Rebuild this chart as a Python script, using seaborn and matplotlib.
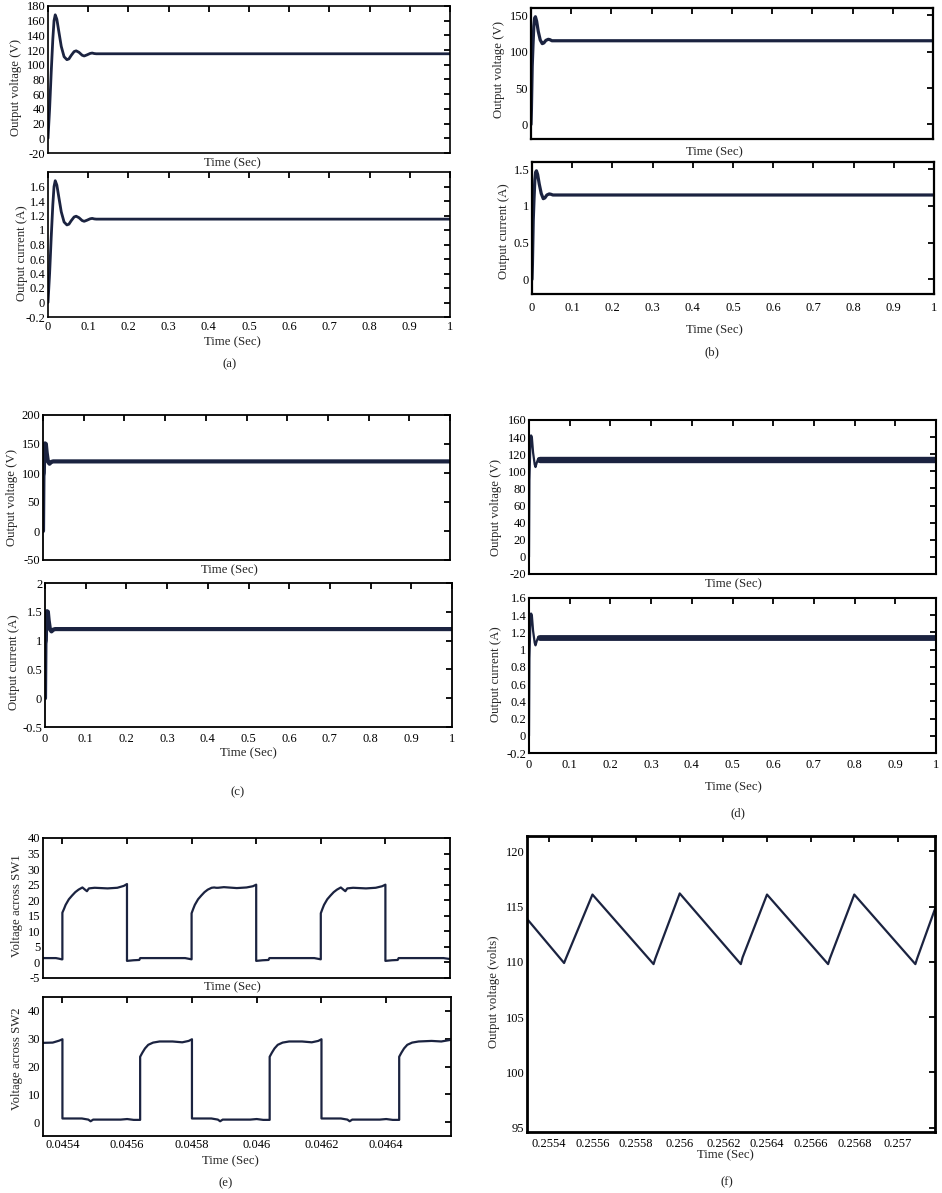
import matplotlib
matplotlib.use("Agg")
import matplotlib.pyplot as plt
import seaborn as sns

# ---------------- data ----------------
# (a)
a_t = [0, 0.004, 0.008, 0.012, 0.015, 0.018, 0.022, 0.027, 0.033, 0.04, 0.047, 0.052,
       0.058, 0.065, 0.07, 0.077, 0.085, 0.09, 0.097, 0.105, 0.11, 0.115, 0.12, 1.0]
a_v = [0, 40, 90, 135, 160, 168, 162, 145, 125, 111, 107, 108,
       113, 118, 119, 117, 113, 112, 113.5, 115.5, 116, 115.3, 115, 115]
a_i = [0, 0.40, 0.90, 1.35, 1.60, 1.68, 1.62, 1.45, 1.25, 1.11, 1.07, 1.08,
       1.13, 1.18, 1.19, 1.17, 1.13, 1.12, 1.135, 1.155, 1.16, 1.153, 1.15, 1.15]
# (b)
b_t = [0, 0.001, 0.003, 0.005, 0.007, 0.009, 0.011, 0.014, 0.018, 0.023, 0.028, 0.032,
       0.037, 0.043, 0.047, 0.052, 1.0]
b_v = [0, 20, 80, 110, 135, 146, 148, 142, 128, 116, 111, 112, 115.5, 117, 116.5, 115, 115]
b_i = [0, 0.2, 0.8, 1.1, 1.35, 1.46, 1.48, 1.43, 1.3, 1.17, 1.1, 1.11, 1.15, 1.165, 1.16, 1.15, 1.15]
# (c)
c_t = [0, 0.001, 0.002, 0.003, 0.005, 0.007, 0.009, 0.012, 0.016, 0.02, 0.025, 1.0]
c_v = [0, 95, 100, 140, 151, 150, 135, 120, 116, 119, 120, 120]
c_i = [0, 0.95, 1.0, 1.4, 1.51, 1.5, 1.35, 1.2, 1.16, 1.19, 1.2, 1.2]
# (d)
d_t = [0, 0.001, 0.003, 0.005, 0.007, 0.010, 0.014, 0.016, 0.019, 0.023, 0.027, 0.03]
d_v = [0, 90, 125, 142, 140, 122, 108, 105, 110, 115, 114, 113]
d_i = [0, 0.9, 1.25, 1.42, 1.40, 1.22, 1.08, 1.05, 1.10, 1.15, 1.14, 1.13]
d_band_t = [0.028, 1.0]
d_band_v = [112.8, 112.8]
d_band_i = [1.13, 1.13]
# (e) switch voltages
e1_t = [0.04534, 0.04538, 0.04539, 0.045398, 0.0454, 0.0454, 0.045405, 0.04541, 0.04542, 0.04543,
        0.04544, 0.04545, 0.045462, 0.04547, 0.045476, 0.045482, 0.0455, 0.04554, 0.04557, 0.04559,
        0.0456, 0.0456, 0.04562, 0.045638, 0.045641, 0.04578, 0.045795, 0.0458,
        0.0458, 0.045805, 0.04581, 0.04582, 0.04583, 0.04584, 0.04585, 0.045862, 0.04587, 0.045876,
        0.045882, 0.0459, 0.04594, 0.04597, 0.04599, 0.046, 0.046, 0.04602, 0.046038, 0.046041,
        0.04618, 0.046195, 0.0462,
        0.0462, 0.046205, 0.04621, 0.04622, 0.04623, 0.04624, 0.04625, 0.046262, 0.04627, 0.046276,
        0.046282, 0.0463, 0.04634, 0.04637, 0.04639, 0.0464, 0.0464, 0.04642, 0.046438, 0.046441,
        0.04658, 0.0466]
e1_v = [1.4, 1.4, 1.2, 1.0, 1.0, 16.0, 17.2, 18.5, 20.3, 21.5,
        22.6, 23.4, 24.1, 23.4, 22.9, 23.8, 24.0, 23.8, 24.0, 24.6,
        25.2, 0.5, 0.7, 0.8, 1.4, 1.4, 1.1, 1.0,
        15.8, 17.2, 18.5, 20.3, 21.5, 22.6, 23.4, 24.0, 24.1, 24.0,
        24.0, 24.2, 23.9, 24.1, 24.5, 25.0, 0.5, 0.7, 0.8, 1.4,
        1.4, 1.1, 1.0,
        15.8, 17.2, 18.5, 20.3, 21.5, 22.6, 23.4, 24.1, 23.4, 22.9,
        23.8, 24.0, 23.8, 24.0, 24.5, 25.0, 0.5, 0.7, 0.8, 1.4,
        1.4, 1.1]
e2_t = [0.04534, 0.04537, 0.04539, 0.0454, 0.0454,
        0.04546, 0.04548, 0.045487, 0.045495, 0.04558, 0.0456, 0.04562, 0.04564,
        0.04564, 0.045647, 0.045655, 0.045665, 0.04568, 0.0457, 0.04574, 0.04577, 0.04579, 0.0458, 0.0458,
        0.04586, 0.04588, 0.045887, 0.045895, 0.04598, 0.046, 0.04602, 0.04604,
        0.04604, 0.046047, 0.046055, 0.046065, 0.04608, 0.0461, 0.04614, 0.04617, 0.04619, 0.0462, 0.0462,
        0.04626, 0.04628, 0.046287, 0.046295, 0.04638, 0.0464, 0.04642, 0.04644,
        0.04644, 0.046447, 0.046455, 0.046465, 0.04648, 0.0465, 0.04654, 0.04657, 0.0466]
e2_v = [28.5, 28.6, 29.3, 29.8, 1.3,
        1.3, 0.9, 0.3, 0.9, 0.9, 1.1, 0.8, 0.8,
        23.5, 25.0, 26.5, 27.8, 28.6, 29.0, 29.0, 28.7, 29.2, 29.8, 1.3,
        1.3, 0.9, 0.3, 0.9, 0.9, 1.1, 0.8, 0.8,
        23.5, 25.0, 26.5, 27.8, 28.6, 29.0, 29.0, 28.7, 29.2, 29.8, 1.3,
        1.3, 0.9, 0.3, 0.9, 0.9, 1.1, 0.8, 0.8,
        23.5, 25.0, 26.5, 27.8, 28.6, 29.0, 29.2, 29.0, 29.6]
# (f) output voltage ripple
f_t = [0.2553, 0.25547, 0.255478, 0.2556, 0.25588, 0.255888, 0.2560, 0.25628, 0.256288,
       0.2564, 0.25668, 0.256688, 0.2568, 0.25708, 0.257088, 0.25717]
f_v = [113.9, 109.9, 110.3, 116.1, 109.8, 110.3, 116.2, 109.8, 110.4,
       116.1, 109.8, 110.3, 116.1, 109.8, 110.3, 114.8]

# ticks
t_ticks = [0, 0.1, 0.2, 0.3, 0.4, 0.5, 0.6, 0.7, 0.8, 0.9, 1.0]
t_labels = ["0", "0.1", "0.2", "0.3", "0.4", "0.5", "0.6", "0.7", "0.8", "0.9", "1"]
cur_ticks_02 = [-0.2, 0, 0.2, 0.4, 0.6, 0.8, 1.0, 1.2, 1.4, 1.6]
cur_labels_02 = ["-0.2", "0", "0.2", "0.4", "0.6", "0.8", "1", "1.2", "1.4", "1.6"]
e_ticks = [0.0454, 0.0456, 0.0458, 0.0460, 0.0462, 0.0464]
e_labels = ["0.0454", "0.0456", "0.0458", "0.046", "0.0462", "0.0464"]
f_ticks = [0.2554, 0.2556, 0.2558, 0.2560, 0.2562, 0.2564, 0.2566, 0.2568, 0.2570]
f_labels = ["0.2554", "0.2556", "0.2558", "0.256", "0.2562", "0.2564", "0.2566", "0.2568", "0.257"]

# ---------------- style ----------------
sns.set_theme(style="white")
plt.rcParams["font.family"] = ["Liberation Serif", "DejaVu Serif"]
plt.rcParams["axes.edgecolor"] = "black"
LINE = "#1b2340"
FS = 9.2
TFS = 9

W, H = 942, 1193
fig = plt.figure(figsize=(W / 100, H / 100), dpi=100)
fig.patch.set_facecolor("white")


def make_ax(l, t, r, b):
    ax = fig.add_axes([l / W, 1 - b / H, (r - l) / W, (b - t) / H])
    ax.set_facecolor("white")
    ax._px = (l, t, r, b)
    return ax


def style(ax, xlim, ylim, xticks, xlabels, yticks, ylabels, frame_lw, xpad=3):
    ax.set_xlim(*xlim)
    ax.set_ylim(*ylim)
    ax.set_xticks(xticks)
    ax.set_xticklabels(xlabels if xlabels is not None else [])
    ax.set_yticks(yticks)
    ax.set_yticklabels(ylabels)
    ax.tick_params(axis="both", direction="in", top=True, right=True, length=4.5,
                   width=1.3, colors="black", labelsize=TFS)
    ax.tick_params(axis="x", pad=xpad)
    ax.tick_params(axis="y", pad=2)
    for sp in ax.spines.values():
        sp.set_visible(True)
        sp.set_linewidth(frame_lw)
        sp.set_color("black")


def labels(ax, xl, xl_pos, yl, yl_pos):
    l, t, r, b = ax._px
    ax.set_xlabel(xl, fontsize=FS)
    ax.xaxis.set_label_coords((xl_pos[0] - l) / (r - l), (b - xl_pos[1]) / (b - t))
    ax.xaxis.label.set_va("center")
    ax.set_ylabel(yl, fontsize=FS)
    ax.yaxis.set_label_coords((yl_pos[0] - l) / (r - l), (b - yl_pos[1]) / (b - t))
    ax.yaxis.label.set_va("center")


def line(ax, x, y, lw):
    sns.lineplot(x=x, y=y, ax=ax, color=LINE, linewidth=lw, sort=False,
                 estimator=None, legend=False)


def caption(txt, x, y):
    fig.text(x / W, 1 - y / H, txt, ha="center", va="center", fontsize=FS)


# ---------------- (a) ----------------
ax = make_ax(48, 6, 450, 153)
line(ax, a_t, a_v, 2.0)
style(ax, (0, 1), (-20, 180), t_ticks, None, list(range(-20, 181, 20)),
      [str(v) for v in range(-20, 181, 20)], 1.2)
labels(ax, "Time (Sec)", (232, 163), "Output voltage (V)", (16, 88))

ax = make_ax(48, 172, 450, 317)
line(ax, a_t, a_i, 2.0)
style(ax, (0, 1), (-0.2, 1.8), t_ticks, t_labels, cur_ticks_02, cur_labels_02, 1.2, xpad=3)
labels(ax, "Time (Sec)", (232, 342), "Output current (A)", (22, 253))
caption("(a)", 230, 364)

# ---------------- (b) ----------------
ax = make_ax(531, 8, 933, 139)
line(ax, b_t, b_v, 2.3)
style(ax, (0, 1), (-20, 160), t_ticks, None, [0, 50, 100, 150], ["0", "50", "100", "150"], 1.6)
labels(ax, "Time (Sec)", (714, 152), "Output voltage (V)", (499, 70))

ax = make_ax(532, 162, 934, 294)
line(ax, b_t, b_i, 2.3)
style(ax, (0, 1), (-0.2, 1.6), t_ticks, t_labels, [0, 0.5, 1.0, 1.5], ["0", "0.5", "1", "1.5"],
      1.6, xpad=6)
labels(ax, "Time (Sec)", (714, 330), "Output current (A)", (504, 231))
caption("(b)", 712, 352)

# ---------------- (c) ----------------
ax = make_ax(43, 415, 450, 560)
line(ax, c_t, c_v, 3.0)
style(ax, (0, 1), (-50, 200), t_ticks, None, [-50, 0, 50, 100, 150, 200],
      ["-50", "0", "50", "100", "150", "200"], 1.3)
labels(ax, "Time (Sec)", (229, 570), "Output voltage (V)", (12, 497))

ax = make_ax(45, 583, 452, 727)
line(ax, c_t, c_i, 3.0)
style(ax, (0, 1), (-0.5, 2.0), t_ticks, t_labels, [-0.5, 0, 0.5, 1.0, 1.5, 2.0],
      ["-0.5", "0", "0.5", "1", "1.5", "2"], 1.3, xpad=4)
labels(ax, "Time (Sec)", (248, 753), "Output current (A)", (14, 662))
caption("(c)", 238, 792)

# ---------------- (d) ----------------
ax = make_ax(529, 420, 936, 574)
line(ax, d_t, d_v, 1.6)
line(ax, d_band_t, d_band_v, 4.6)
style(ax, (0, 1), (-20, 160), t_ticks, None, list(range(-20, 161, 20)),
      [str(v) for v in range(-20, 161, 20)], 1.5)
labels(ax, "Time (Sec)", (733, 584), "Output voltage (V)", (496, 508))

ax = make_ax(529, 598, 936, 753)
line(ax, d_t, d_i, 1.6)
line(ax, d_band_t, d_band_i, 4.2)
style(ax, (0, 1), (-0.2, 1.6), t_ticks, t_labels, cur_ticks_02, cur_labels_02, 1.5, xpad=4)
labels(ax, "Time (Sec)", (733, 787), "Output current (A)", (496, 674))
caption("(d)", 738, 813)

# ---------------- (e) ----------------
ax = make_ax(43, 838, 450, 978)
line(ax, e1_t, e1_v, 1.6)
style(ax, (0.04534, 0.0466), (-5, 40), e_ticks, None, list(range(-5, 41, 5)),
      [str(v) for v in range(-5, 41, 5)], 1.3)
labels(ax, "Time (Sec)", (232, 987), "Voltage across SW1", (17, 906))

ax = make_ax(43, 997, 451, 1136)
line(ax, e2_t, e2_v, 1.6)
style(ax, (0.04534, 0.0466), (-5, 45), e_ticks, e_labels, [0, 10, 20, 30, 40],
      ["0", "10", "20", "30", "40"], 1.3, xpad=2)
labels(ax, "Time (Sec)", (230, 1161), "Voltage across SW2", (17, 1059))
caption("(e)", 226, 1183)

# ---------------- (f) ----------------
ax = make_ax(527, 836, 935, 1132)
line(ax, f_t, f_v, 1.6)
style(ax, (0.2553, 0.25717), (94.6, 121.4), f_ticks, f_labels, [95, 100, 105, 110, 115, 120],
      ["95", "100", "105", "110", "115", "120"], 2.0, xpad=4)
labels(ax, "Time (Sec)", (725, 1155), "Output voltage (volts)", (494, 992))
caption("(f)", 727, 1182)

fig.savefig("out.png", dpi=100, facecolor="white")
